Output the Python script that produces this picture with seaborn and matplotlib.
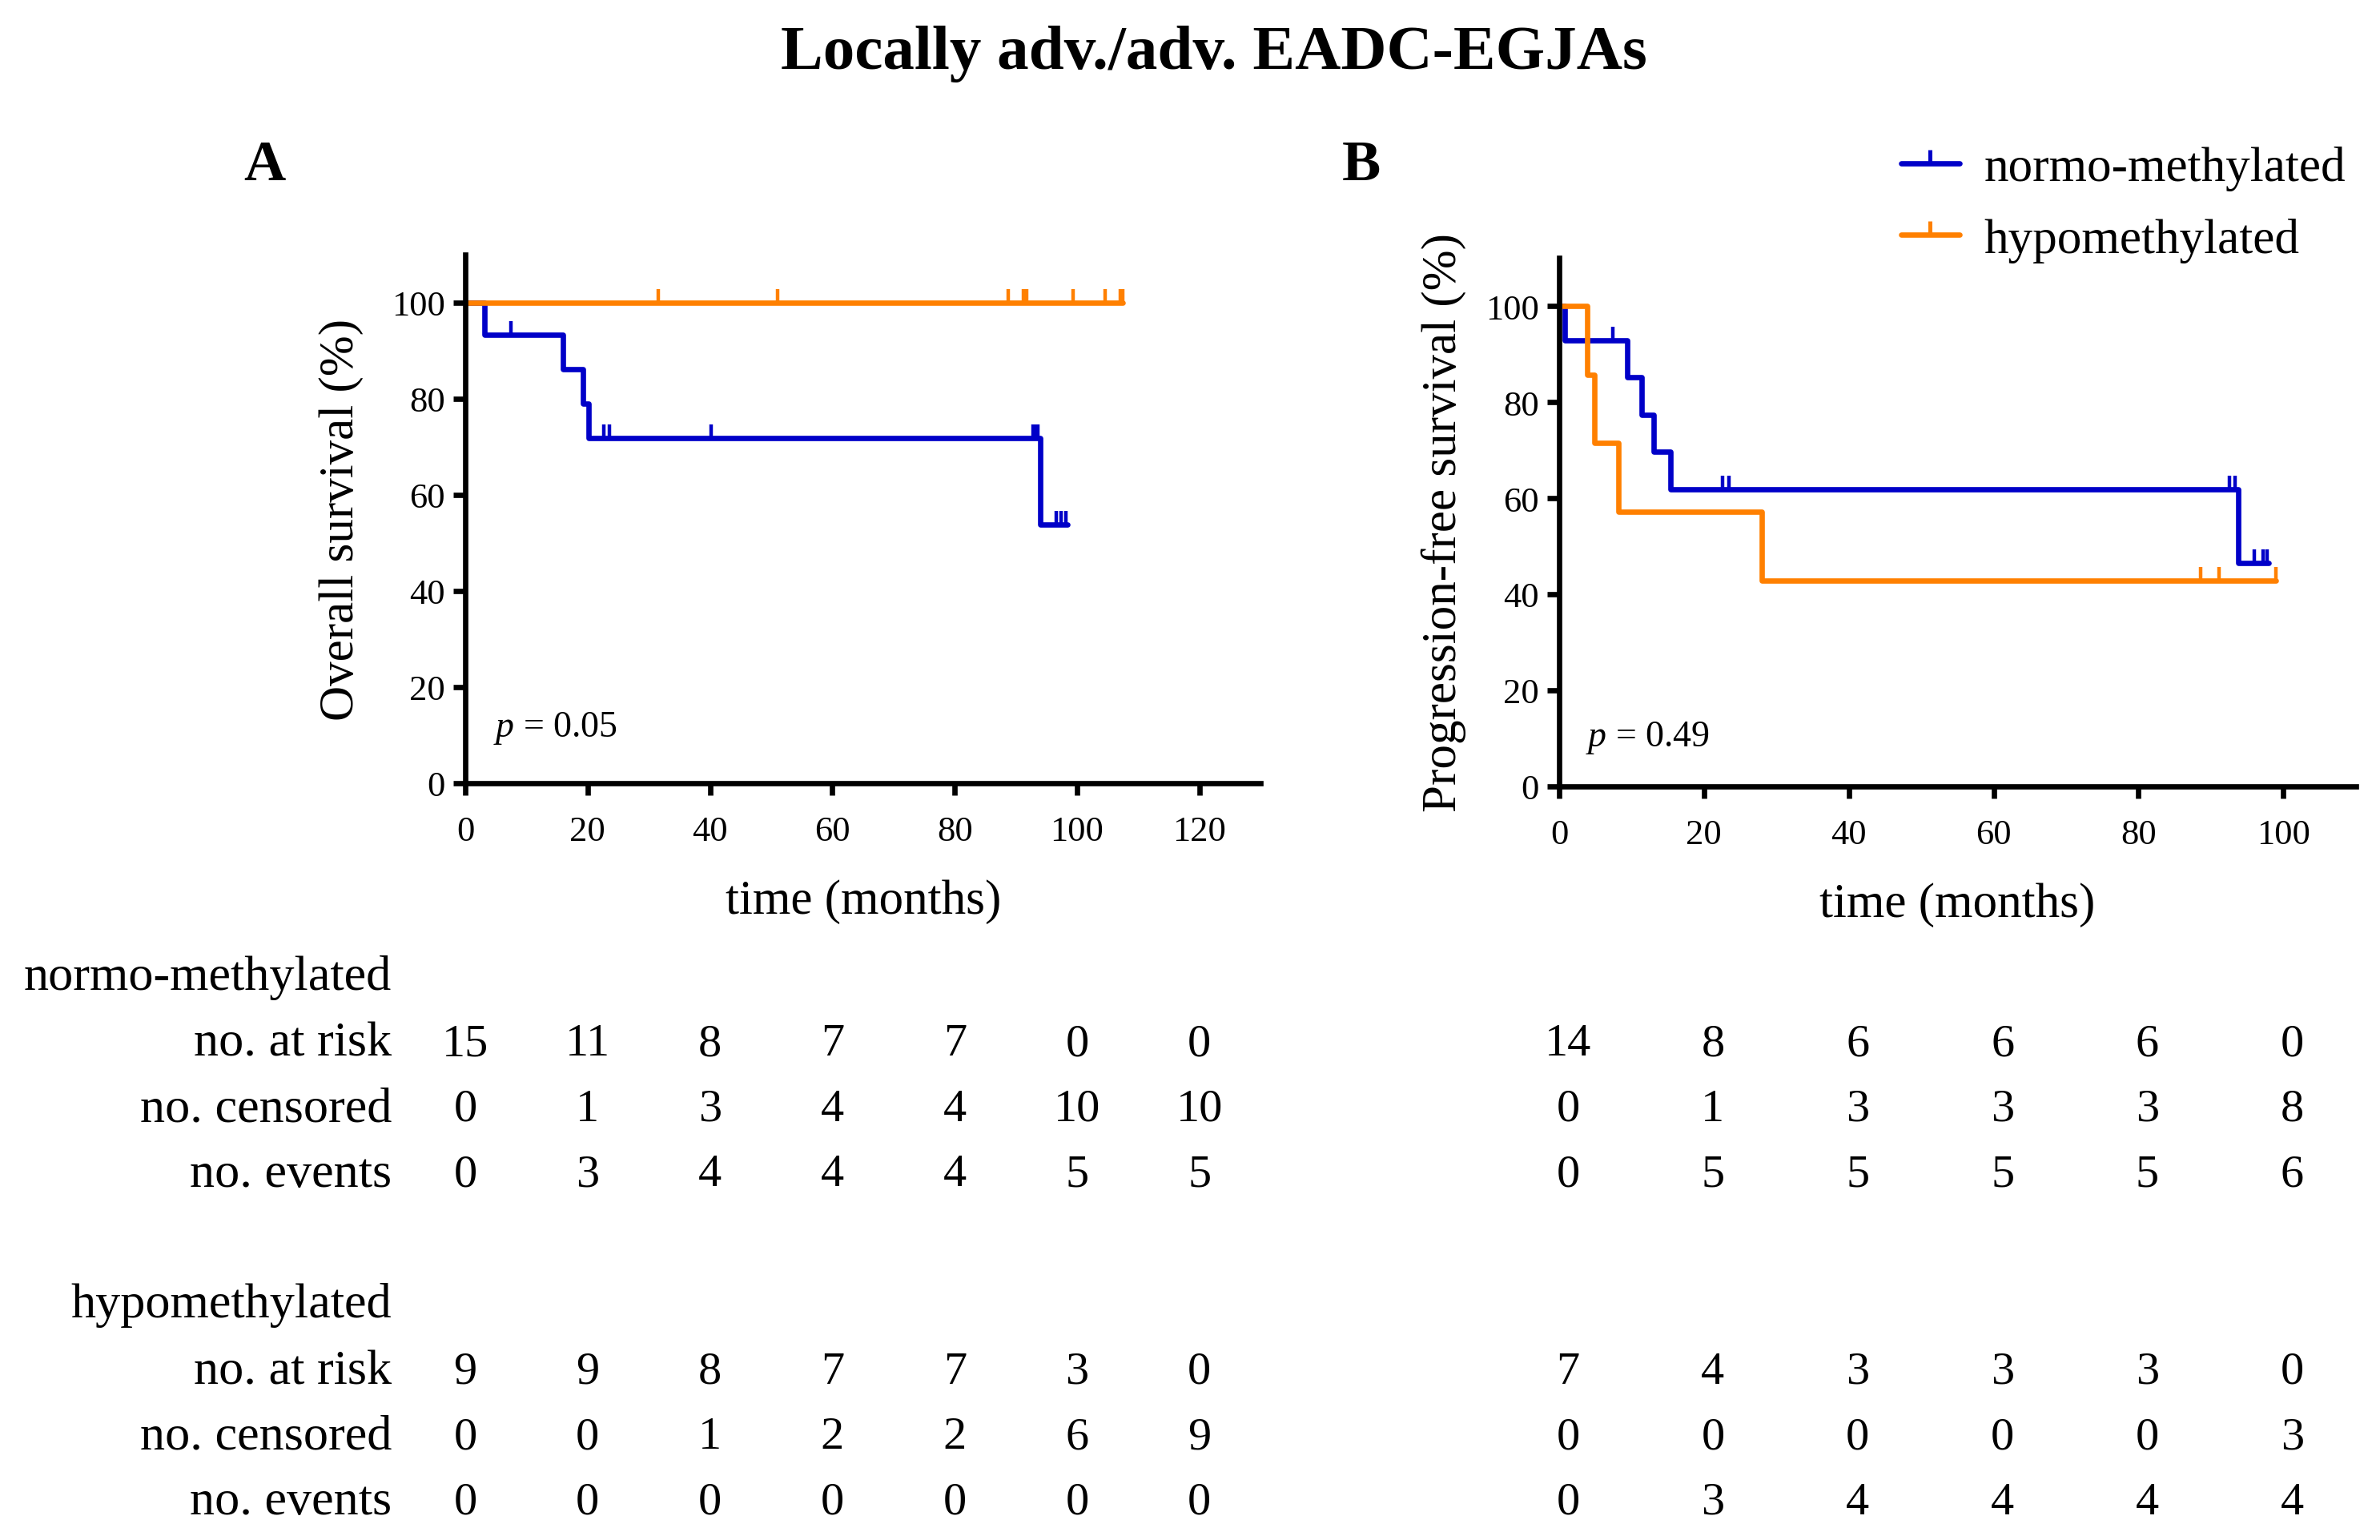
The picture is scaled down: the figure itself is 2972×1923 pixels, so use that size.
import numpy as np
import pandas as pd
import matplotlib
matplotlib.use('Agg')
import matplotlib.pyplot as plt
import matplotlib.transforms as mtransforms
from matplotlib.lines import Line2D
import seaborn as sns

sns.set_theme(style='ticks')
plt.rcParams['font.family'] = ['Liberation Serif', 'DejaVu Serif']
plt.rcParams['mathtext.fontset'] = 'custom'
plt.rcParams['mathtext.rm'] = 'Liberation Serif'
plt.rcParams['mathtext.it'] = 'Liberation Serif:italic'
for k in ['text.color', 'axes.labelcolor', 'xtick.color', 'ytick.color', 'axes.edgecolor']:
    plt.rcParams[k] = 'black'

groups = ['normo-methylated', 'hypomethylated']
colors = {'normo-methylated': '#0000c8', 'hypomethylated': '#ff8000'}

# ---- Overall survival (A) ----
os_normo_t = [0, 3.1, 16.0, 19.3, 20.2, 94.0, 98.4]
os_normo_s = [100, 93.33, 86.15, 78.97, 71.79, 53.85, 53.85]
os_normo_cens = [7.4, 22.6, 23.5, 40.2, 92.8, 93.2, 93.6, 96.6, 97.4, 98.2]
os_hypo_t = [0, 107.4]
os_hypo_s = [100, 100]
os_hypo_cens = [31.5, 51.0, 88.7, 91.2, 91.8, 99.3, 104.6, 107.0, 107.4]

# ---- Progression-free survival (B) ----
pfs_normo_t = [0, 0.75, 9.4, 11.4, 13.1, 15.4, 93.8, 98.0]
pfs_normo_s = [100, 92.86, 85.12, 77.38, 69.64, 61.90, 46.43, 46.43]
pfs_normo_cens = [7.4, 22.6, 23.4, 92.6, 93.3, 96.0, 97.2, 97.8]
pfs_hypo_t = [0, 3.9, 4.9, 8.2, 28.0, 99.0]
pfs_hypo_s = [100, 85.71, 71.43, 57.14, 42.86, 42.86]
pfs_hypo_cens = [88.6, 91.1, 99.0]

# ---- numbers at risk tables ----
os_ticks = [0, 20, 40, 60, 80, 100, 120]
os_normo_risk = [15, 11, 8, 7, 7, 0, 0]
os_normo_ncens = [0, 1, 3, 4, 4, 10, 10]
os_normo_events = [0, 3, 4, 4, 4, 5, 5]
os_hypo_risk = [9, 9, 8, 7, 7, 3, 0]
os_hypo_ncens = [0, 0, 1, 2, 2, 6, 9]
os_hypo_events = [0, 0, 0, 0, 0, 0, 0]

pfs_ticks = [0, 20, 40, 60, 80, 100]
pfs_normo_risk = [14, 8, 6, 6, 6, 0]
pfs_normo_ncens = [0, 1, 3, 3, 3, 8]
pfs_normo_events = [0, 5, 5, 5, 5, 6]
pfs_hypo_risk = [7, 4, 3, 3, 3, 0]
pfs_hypo_ncens = [0, 0, 0, 0, 0, 3]
pfs_hypo_events = [0, 3, 4, 4, 4, 4]

row_names = ['no. at risk', 'no. censored', 'no. events']


def surv_at(t, s, x):
    i = np.searchsorted(t, x, side='right') - 1
    return np.asarray(s)[i]


def km_panel(ax, curves, xmax, xticks, ylabel, ylab_x, ptext, pxy):
    df = pd.concat([pd.DataFrame({'time': c[0], 'surv': c[1], 'group': g})
                    for g, c in curves.items()], ignore_index=True)
    sns.lineplot(data=df, x='time', y='surv', hue='group', palette=colors,
                 estimator=None, sort=False, drawstyle='steps-post',
                 linewidth=2.4, legend=False, ax=ax)
    # censored observations as upward ticks
    for g, c in curves.items():
        ax.plot(c[2], surv_at(c[0], c[1], c[2]), ls='none', marker=2,
                ms=6, mew=1.6, color=colors[g])
    ax.set_xlim(0, xmax)
    ax.set_ylim(0, 110)
    ax.set_xticks(xticks)
    ax.set_yticks([0, 20, 40, 60, 80, 100])
    ax.set_xlabel('time (months)', fontsize=22, labelpad=14)
    ax.set_ylabel(ylabel, fontsize=22)
    ax.yaxis.set_label_coords(ylab_x, 0.5)
    ax.tick_params(labelsize=16, width=2.4, length=5.5, color='black')
    ax.tick_params(axis='x', pad=9)
    for sp in ['left', 'bottom']:
        ax.spines[sp].set_linewidth(2.4)
    sns.despine(ax=ax)
    ax.text(pxy[0], pxy[1], ptext, fontsize=16.5, va='center', ha='left')


fig = plt.figure(figsize=(14.86, 9.62), dpi=200)
axA = fig.add_axes([0.1955, 0.4913, 0.3342, 0.343])
axB = fig.add_axes([0.6551, 0.4891, 0.3347, 0.343])

km_panel(axA, {'normo-methylated': (os_normo_t, os_normo_s, os_normo_cens),
               'hypomethylated': (os_hypo_t, os_hypo_s, os_hypo_cens)},
         130, os_ticks, 'Overall survival (%)', -0.128, r'$\it{p}$ = 0.05', (4.6, 11.5))
km_panel(axB, {'normo-methylated': (pfs_normo_t, pfs_normo_s, pfs_normo_cens),
               'hypomethylated': (pfs_hypo_t, pfs_hypo_s, pfs_hypo_cens)},
         110, pfs_ticks, 'Progression-free survival (%)', -0.117, r'$\it{p}$ = 0.49', (3.7, 10.2))

fig.text(0.51, 0.965, 'Locally adv./adv. EADC-EGJAs', ha='center', va='center',
         fontsize=28.5, fontweight='bold')
fig.text(0.111, 0.892, 'A', ha='center', va='center', fontsize=26, fontweight='bold')
fig.text(0.572, 0.892, 'B', ha='center', va='center', fontsize=26, fontweight='bold')

handles = [Line2D([0], [0], color=colors[g], lw=2.4, marker=2, ms=6, mew=1.8) for g in groups]
fig.legend(handles, groups, loc='center left', bbox_to_anchor=(0.7905, 0.867),
           frameon=False, fontsize=22, handlelength=1.2, handletextpad=0.5,
           labelspacing=0.55, borderaxespad=0)

# number at risk tables
group_y = {'normo-methylated': 1 - 644 / 1015, 'hypomethylated': 1 - 860 / 1015}
row_dy = [44 / 1015, 87 / 1015, 130 / 1015]
tables = [
    (axA, os_ticks, 0, {'normo-methylated': [os_normo_risk, os_normo_ncens, os_normo_events],
                        'hypomethylated': [os_hypo_risk, os_hypo_ncens, os_hypo_events]}),
    (axB, pfs_ticks, 4, {'normo-methylated': [pfs_normo_risk, pfs_normo_ncens, pfs_normo_events],
                         'hypomethylated': [pfs_hypo_risk, pfs_hypo_ncens, pfs_hypo_events]}),
]
for g in groups:
    y0 = group_y[g]
    fig.text(0.1646, y0, g, ha='right', va='center', fontsize=22.4)
    for r, name in enumerate(row_names):
        fig.text(0.1646, y0 - row_dy[r], name, ha='right', va='center', fontsize=22.4)
for ax, ticks, shift, tab in tables:
    trans = mtransforms.blended_transform_factory(ax.transData, fig.transFigure)
    trans = mtransforms.offset_copy(trans, fig=fig, x=shift, y=0, units='points')
    for g in groups:
        y0 = group_y[g]
        for r in range(3):
            for x, v in zip(ticks, tab[g][r]):
                ax.text(x, y0 - row_dy[r], str(v), transform=trans, ha='center',
                        va='center', fontsize=21, clip_on=False)

fig.savefig('out.png', dpi=200)
